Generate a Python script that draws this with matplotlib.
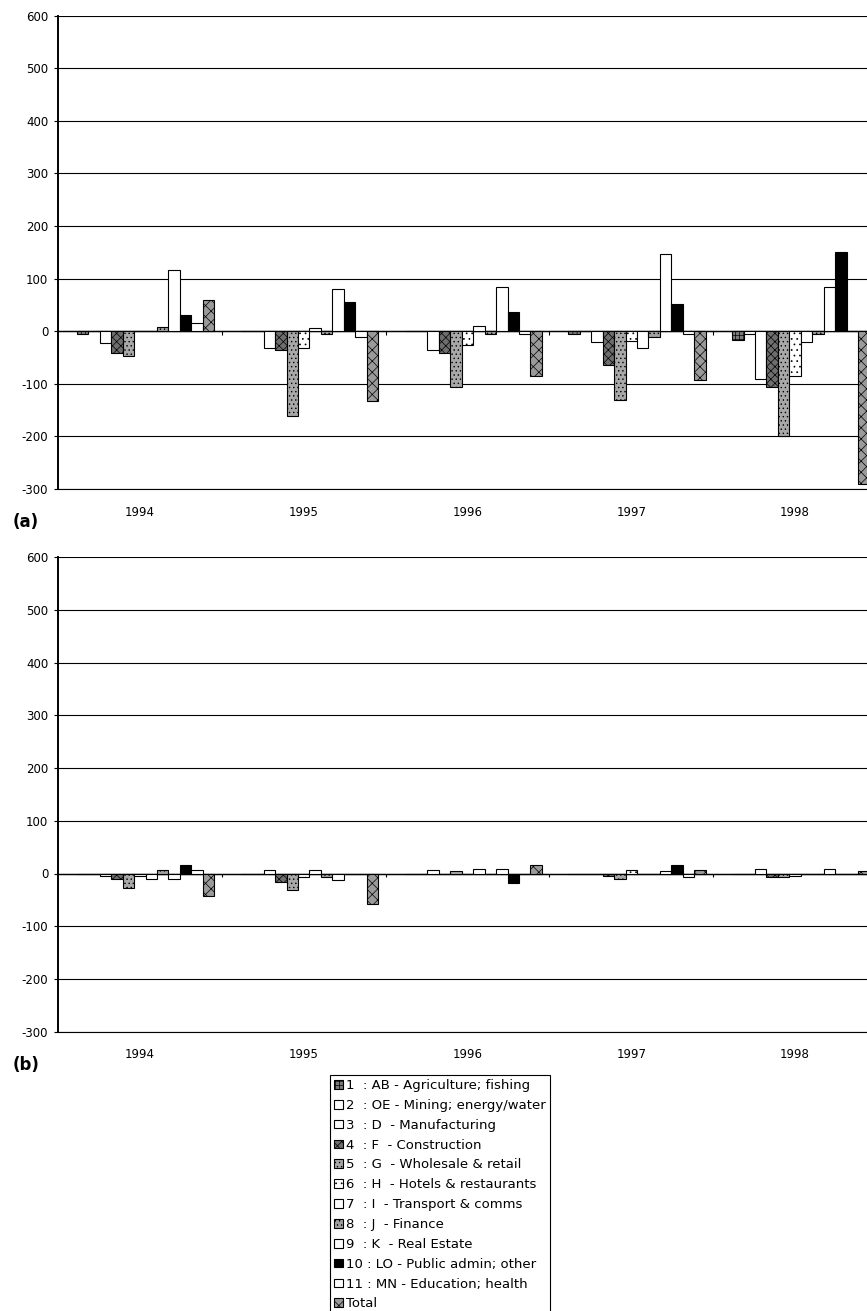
import matplotlib
matplotlib.use('Agg')
import matplotlib.pyplot as plt
import numpy as np

plt.rcParams['font.family'] = ['DejaVu Sans']
plt.rcParams['hatch.linewidth'] = 0.5

# ---------------- data ----------------
years = ['1994', '1995', '1996', '1997', '1998']

sector_labels = [
    '1  : AB - Agriculture; fishing',
    '2  : OE - Mining; energy/water',
    '3  : D  - Manufacturing',
    '4  : F  - Construction',
    '5  : G  - Wholesale & retail',
    '6  : H  - Hotels & restaurants',
    '7  : I  - Transport & comms',
    '8  : J  - Finance',
    '9  : K  - Real Estate',
    '10 : LO - Public admin; other',
    '11 : MN - Education; health',
    'Total',
]

# panel (a)
a_agri = [-5, 0, 0, -5, -16]
a_mining = [0, 0, 0, 0, -6]
a_manuf = [-22, -32, -35, -21, -90]
a_constr = [-42, -36, -41, -65, -106]
a_retail = [-47, -161, -106, -131, -199]
a_hotels = [0, -32, -27, -19, -85]
a_transport = [0, 6, 10, -32, -21]
a_finance = [9, -6, -6, -11, -6]
a_realestate = [116, 80, 85, 147, 85]
a_public = [30, 56, 36, 51, 150]
a_education = [16, -11, -5, -6, 0]
a_total = [60, -132, -85, -92, -291]

# panel (b)
b_agri = [0, 0, 0, 0, 0]
b_mining = [0, 0, 0, 0, 0]
b_manuf = [-5, 6, 6, 0, 9]
b_constr = [-11, -16, 0, -5, -6]
b_retail = [-27, -32, 4, -11, -6]
b_hotels = [-4, -6, 0, 6, -5]
b_transport = [-11, 6, 9, 0, 0]
b_finance = [6, -6, 0, 0, 0]
b_realestate = [-11, -13, 9, 4, 9]
b_public = [17, 0, -18, 17, 0]
b_education = [6, 0, 0, -6, 0]
b_total = [-43, -57, 16, 6, 5]

panel_a = [a_agri, a_mining, a_manuf, a_constr, a_retail, a_hotels,
           a_transport, a_finance, a_realestate, a_public, a_education, a_total]
panel_b = [b_agri, b_mining, b_manuf, b_constr, b_retail, b_hotels,
           b_transport, b_finance, b_realestate, b_public, b_education, b_total]

yticks = list(range(-300, 601, 100))

# ---------------- styles ----------------
facecolors = ['#7a7a7a', 'white', 'white', '#6e6e6e', '#a8a8a8', 'white',
              'white', '#a0a0a0', 'white', 'black', 'white', '#9a9a9a']
hatches = ['++++', None, None, 'xxxx', '....', '...',
           None, '....', None, None, None, 'xxx']

W, H = 867, 1311
fig = plt.figure(figsize=(W / 100, H / 100), dpi=100)


def px_axes(left, top, right, bottom):
    return fig.add_axes([left / W, 1 - bottom / H, (right - left) / W, (bottom - top) / H])


ax_a = px_axes(58, 15.7, 877, 489)
ax_b = px_axes(58, 557.3, 877, 1031.6)

bw = 11.45 / 164.0
first_off = 19.0 / 164.0


def draw_panel(ax, data):
    cats = np.arange(len(years))
    handles = []
    for k, vals in enumerate(data):
        h = ax.bar(cats + first_off + k * bw, vals, width=bw, align='edge',
                   facecolor=facecolors[k], edgecolor='black', linewidth=0.8,
                   hatch=hatches[k], zorder=3, label=sector_labels[k])
        handles.append(h)
    ax.set_xlim(0, len(years))
    ax.set_ylim(-300, 600)
    ax.set_yticks(yticks)
    ax.set_yticklabels([str(t) for t in yticks])
    ax.set_xticks(cats + 0.5)
    ax.set_xticklabels(years)
    ax.tick_params(axis='x', length=0, pad=12, labelsize=8.5)
    ax.tick_params(axis='y', length=3, width=0.8, pad=4, labelsize=8.5, direction='out')
    ax.yaxis.grid(True, color='black', linewidth=0.8)
    ax.set_axisbelow(True)
    for s in ['top', 'right']:
        ax.spines[s].set_visible(False)
    ax.spines['left'].set_linewidth(1.4)
    ax.spines['bottom'].set_linewidth(0.8)
    ax.axhline(0, color='black', linewidth=1.0, zorder=2)
    ax.vlines(cats[1:], -7, 0, color='black', linewidth=0.8, zorder=2)
    return handles


handles = draw_panel(ax_a, panel_a)
draw_panel(ax_b, panel_b)

fig.text(26 / W, 1 - 522 / H, '(a)', ha='center', va='center', fontsize=12, fontweight='bold')
fig.text(26 / W, 1 - 1065 / H, '(b)', ha='center', va='center', fontsize=12, fontweight='bold')

leg = fig.legend(handles, sector_labels, loc='upper left',
                 bbox_to_anchor=(330 / W, 1 - 1075 / H), bbox_transform=fig.transFigure,
                 fontsize=9.5, frameon=True, fancybox=False, edgecolor='black', framealpha=1,
                 handlelength=0.65, handleheight=0.65, handletextpad=0.3, borderpad=0.3,
                 labelspacing=0.52, borderaxespad=0)
leg.get_frame().set_linewidth(0.8)

fig.savefig('out.png', dpi=100)
